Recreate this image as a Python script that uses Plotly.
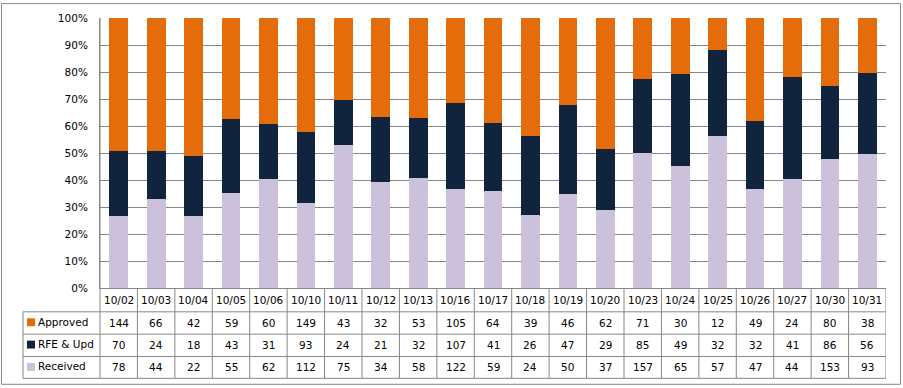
import plotly.graph_objects as go

categories = ["10/02", "10/03", "10/04", "10/05", "10/06", "10/10", "10/11", "10/12", "10/13", "10/16",
              "10/17", "10/18", "10/19", "10/20", "10/23", "10/24", "10/25", "10/26", "10/27", "10/30", "10/31"]
approved = [144, 66, 42, 59, 60, 149, 43, 32, 53, 105, 64, 39, 46, 62, 71, 30, 12, 49, 24, 80, 38]
rfe_upd = [70, 24, 18, 43, 31, 93, 24, 21, 32, 107, 41, 26, 47, 29, 85, 49, 32, 32, 41, 86, 56]
received = [78, 44, 22, 55, 62, 112, 75, 34, 58, 122, 59, 24, 50, 37, 157, 65, 57, 47, 44, 153, 93]
y_ticks = [0, 10, 20, 30, 40, 50, 60, 70, 80, 90, 100]

C_APP = "#E46C0A"
C_RFE = "#10243E"
C_REC = "#CCC1DA"
GRID = "#868686"
FONT = "DejaVu Sans"
FS = 10.5

W, H = 903, 388
L, R, T, B = 100, 886, 16, 288


def px(x):
    return (x - L) / (R - L)


def py(y):
    return (B - y) / (B - T)


fig = go.Figure()
series = [("Received", received, C_REC), ("RFE & Upd", rfe_upd, C_RFE), ("Approved", approved, C_APP)]
for name, vals, col in series:
    fig.add_trace(go.Bar(x=categories, y=vals, name=name, marker=dict(color=col, line=dict(width=0)),
                         showlegend=False))

shapes = []
annotations = []
line = dict(color=GRID, width=1)

# table horizontal lines
for yy in [312, 334.5, 357, 379]:
    shapes.append(dict(type="line", xref="paper", yref="paper", x0=px(23), x1=px(R), y0=py(yy), y1=py(yy), line=line))
# table vertical lines between categories
n = len(categories)
for i in range(n):
    shapes.append(dict(type="line", xref="x", yref="paper", x0=i + 0.5, x1=i + 0.5, y0=py(B), y1=py(379), line=line))
shapes.append(dict(type="line", xref="paper", yref="paper", x0=0, x1=0, y0=1, y1=py(379), line=line))
shapes.append(dict(type="line", xref="paper", yref="paper", x0=px(23), x1=px(23), y0=py(312), y1=py(379), line=line))
# outer chart border
shapes.append(dict(type="rect", xref="paper", yref="paper", x0=px(1.5), x1=px(900.5), y0=py(1.5), y1=py(385),
                   line=dict(color=GRID, width=1), layer="below"))

# header labels
for c in categories:
    annotations.append(dict(x=c, y=py(300), xref="x", yref="paper", text=c, showarrow=False,
                            xanchor="center", yanchor="middle",
                            font=dict(family=FONT, size=FS, color="#000")))
rows = [("Approved", approved, C_APP, 323), ("RFE & Upd", rfe_upd, C_RFE, 345.5), ("Received", received, C_REC, 368)]
for name, vals, col, yy in rows:
    for c, v in zip(categories, vals):
        annotations.append(dict(x=c, y=py(yy), xref="x", yref="paper", text=str(v), showarrow=False,
                                xanchor="center", yanchor="middle",
                                font=dict(family=FONT, size=FS, color="#000")))
    shapes.append(dict(type="rect", xref="paper", yref="paper", x0=px(27), x1=px(35), y0=py(yy - 4.5), y1=py(yy + 3.5),
                       line=dict(width=0), fillcolor=col))
    annotations.append(dict(x=px(36), y=py(yy - 1), xref="paper", yref="paper", text=name, showarrow=False,
                            xanchor="left", yanchor="middle", font=dict(family=FONT, size=FS, color="#000")))

fig.update_layout(
    width=W, height=H,
    margin=dict(l=L, r=W - R, t=T, b=H - B, pad=0),
    barmode="stack", barnorm="percent", bargap=0.5,
    plot_bgcolor="white", paper_bgcolor="white",
    shapes=shapes, annotations=annotations,
    font=dict(family=FONT, size=FS, color="#000"),
    xaxis=dict(showticklabels=False, ticks="", showgrid=False, zeroline=False, showline=True,
               linecolor=GRID, linewidth=1, range=[-0.5, n - 0.5], fixedrange=True),
    yaxis=dict(range=[0, 100], tickvals=y_ticks, ticktext=[f"{t}%" for t in y_ticks], showgrid=True,
               gridcolor=GRID, gridwidth=1, zeroline=False, showline=True, linecolor=GRID, linewidth=1,
               ticks="outside", ticklen=9, tickcolor="rgba(0,0,0,0)", fixedrange=True,
               tickfont=dict(family=FONT, size=FS, color="#000")),
)

fig.write_html("out.html", config={"displayModeBar": False, "staticPlot": True},
               post_script="document.body.style.margin='0';document.body.style.overflow='hidden';")
